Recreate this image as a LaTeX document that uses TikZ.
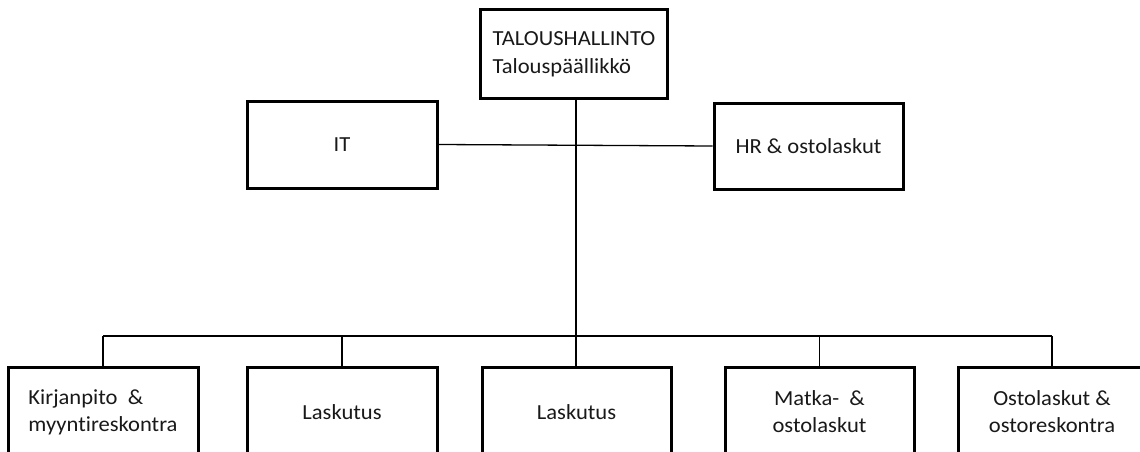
\documentclass[tikz,border=0pt]{standalone}
\usepackage{fontspec}
\setmainfont{Carlito}[Ligatures=NoCommon,FakeStretch=1.05]
\begin{document}
\begin{tikzpicture}[x=1pt,y=-1pt,
  box/.style={draw=black,line width=3pt,fill=white,rectangle,inner sep=0pt,
    align=left,font=\fontsize{21.5}{28}\selectfont,text=black!90},
  conn/.style={draw=black,line width=1.3pt}]
\useasboundingbox (0,0) rectangle (1140,452);
\clip (0,0) rectangle (1140,452);
\fill[white] (0,0) rectangle (1140,452);
% top
\node[box,minimum width=187pt,minimum height=88pt] (top) at (574,54) {TALOUSHALLINTO\\Talouspäällikkö};
\node[box,minimum width=190pt,minimum height=87pt] (it) at (342,144.5) {IT};
\node[box,minimum width=189pt,minimum height=86pt] (hr) at (808.5,146) {HR \& ostolaskut};
% bottom row
\node[box,minimum width=190pt,minimum height=90pt,font=\fontsize{21.5}{27}\selectfont] (b1) at (103,412) {Kirjanpito\ \ \&\\myyntireskontra};
\node[box,minimum width=190pt,minimum height=90pt] (b2) at (342,412) {Laskutus};
\node[box,minimum width=189pt,minimum height=90pt] (b3) at (576.5,412) {Laskutus};
\node[box,minimum width=189pt,minimum height=90pt,align=center,font=\fontsize{21.5}{27}\selectfont] (b4) at (819.5,412) {Matka-\ \ \&\\ostolaskut};
\node[box,minimum width=188pt,minimum height=90pt,align=center,font=\fontsize{21.5}{27}\selectfont] (b5) at (1052,412) {Ostolaskut \&\\ostoreskontra};
% connectors
\coordinate (bus) at (576,336);
\coordinate (busL) at (103,336);
\coordinate (busR) at (1052,336);
\draw[conn] (576,98) -- (bus);
\draw[conn] (it.east) -- (hr.west);
\draw[conn] (busL) -- (busR);
\draw[conn] (busL) -- (b1.north -| busL);
\draw[conn] (b2.north |- bus) -- (b2.north);
\draw[conn] (bus) -- (b3.north -| bus);
\draw[conn] (b4.north |- bus) -- (b4.north);
\draw[conn] (busR) -- (b5.north);
\end{tikzpicture}
\end{document}
